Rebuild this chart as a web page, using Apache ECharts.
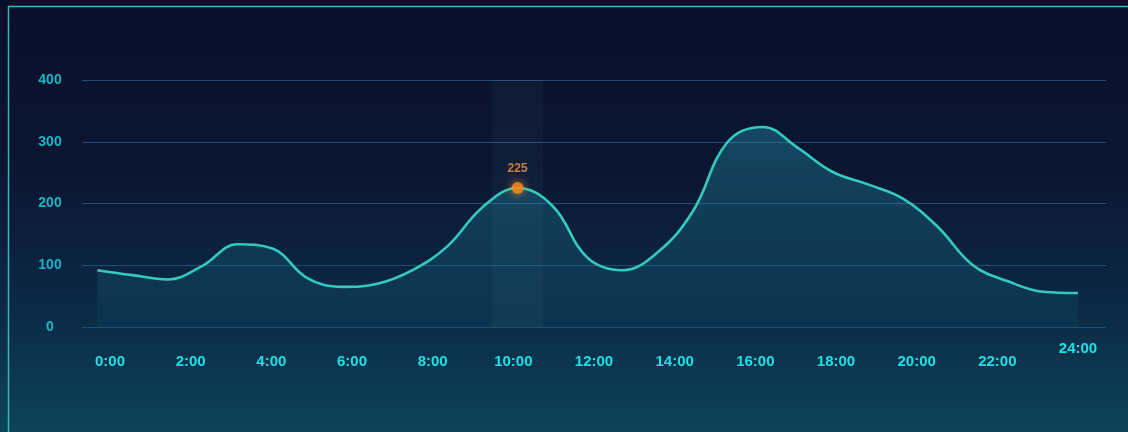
<!DOCTYPE html>
<html>
<head>
<meta charset="utf-8">
<script src="https://cdn.jsdelivr.net/npm/echarts@6/dist/echarts.min.js"></script>
<style>
html,body{margin:0;padding:0;background:#0a0f2a;}
#c{width:1128px;height:432px;}
</style>
</head>
<body>
<div id="c"></div>
<script>
// Values at 29 evenly spaced samples from 0:00 to 24:00
const values = [92, 84, 77, 99, 134, 127, 79, 65, 70, 92, 131, 194, 225, 196, 112, 92, 121, 187, 300, 324, 290, 251, 231, 208, 162, 100, 74, 57, 55];
const sampleStepHours = 24 / (values.length - 1);
// Tick labels on the time axis (hours)
const xTickHours = [0, 2, 4, 6, 8, 10, 12, 14, 16, 18, 20, 22, 24];
const yTicks = [0, 100, 200, 300, 400];
const highlightIndex = 12;

const lineData = values.map((v, i) => [i * sampleStepHours, v]);
const hl = lineData[highlightIndex];
const bandHalf = 0.62;

const chart = echarts.init(document.getElementById('c'), null, {renderer: 'canvas'});
chart.setOption({
  animation: false,
  backgroundColor: new echarts.graphic.LinearGradient(0, 0, 0, 1, [
    {offset: 0, color: '#0a0f2a'},
    {offset: 0.4, color: '#0b1633'},
    {offset: 0.75, color: '#0b2c48'},
    {offset: 1, color: '#0c4458'}
  ]),
  graphic: [{
    type: 'rect',
    shape: {x: 8.5, y: 6.5, width: 1140, height: 440},
    style: {fill: 'none', stroke: '#3db3bd', lineWidth: 1.5},
    silent: true
  }],
  grid: {left: 82, right: 22, top: 80, bottom: 105},
  xAxis: [{
    type: 'value',
    min: -0.694, max: 24.694,
    axisLine: {show: false},
    axisTick: {show: false},
    splitLine: {show: false},
    axisLabel: {
      customValues: xTickHours,
      margin: 14,
      color: '#1fe0e6',
      fontWeight: 'bold',
      fontSize: 15,
      fontFamily: 'Liberation Sans, Arial, sans-serif',
      formatter: v => v === 24 ? '{b|' + v + ':00}' : '{a|' + v + ':00}',
      rich: {
        a: {color: '#1fe0e6', fontWeight: 'bold', fontSize: 15, padding: [13, 0, 0, 0]},
        b: {color: '#1fe0e6', fontWeight: 'bold', fontSize: 15}
      }
    }
  }, {
    type: 'value',
    show: false,
    min: -0.374, max: 24.685
  }],
  yAxis: {
    type: 'value',
    min: yTicks[0], max: yTicks[yTicks.length - 1], interval: 100,
    axisLine: {show: false},
    axisTick: {show: false},
    axisLabel: {
      color: '#1bb4c6', fontWeight: 'bold', fontSize: 14,
      fontFamily: 'Liberation Sans, Arial, sans-serif',
      align: 'center', margin: 32
    },
    splitLine: {lineStyle: {color: '#224d72', width: 1.2}}
  },
  series: [{
    type: 'line',
    xAxisIndex: 1,
    data: lineData,
    smooth: 0.4,
    symbol: 'none',
    lineStyle: {color: '#33cabc', width: 2.6},
    areaStyle: {
      color: new echarts.graphic.LinearGradient(0, 0, 0, 1, [
        {offset: 0, color: 'rgba(38,170,190,0.5)'},
        {offset: 1, color: 'rgba(38,170,190,0.08)'}
      ])
    },
    markArea: {
      silent: true,
      itemStyle: {color: 'rgba(140,210,230,0.045)'},
      data: [[{xAxis: hl[0] - bandHalf}, {xAxis: hl[0] + bandHalf}]]
    },
    z: 2
  }, {
    type: 'scatter',
    xAxisIndex: 1,
    data: [hl],
    symbolSize: 12,
    itemStyle: {color: '#ff8a1c', shadowBlur: 10, shadowColor: 'rgba(255,150,40,0.9)'},
    label: {
      show: true, position: 'top', distance: 7,
      formatter: p => p.value[1],
      color: '#f29b3a', fontWeight: 'bold', fontSize: 12,
      fontFamily: 'Liberation Sans, Arial, sans-serif'
    },
    z: 5
  }]
});
</script>
</body>
</html>
